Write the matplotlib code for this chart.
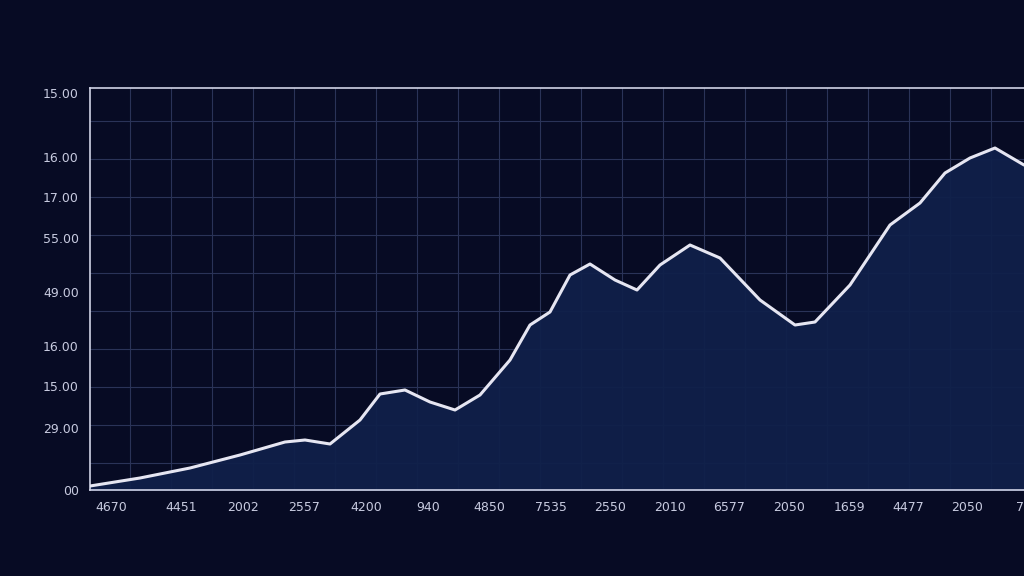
import matplotlib
matplotlib.use("Agg")
import matplotlib.pyplot as plt

x_vals = [0, 50, 100, 150, 195, 215, 240, 270, 290, 315, 340, 365, 390, 420, 440, 460, 480, 500, 525, 547, 570, 600, 630, 670, 705, 725, 760, 800, 830, 855, 880, 905, 934]
y_vals = [4, 12, 22, 35, 48, 50, 46, 70, 96, 100, 88, 80, 95, 130, 165, 178, 215, 226, 210, 200, 225, 245, 232, 190, 165, 168, 205, 265, 287, 317, 332, 342, 325]

y_tick_pos = [0, 62, 104, 144, 198, 252, 293, 333, 397]
y_tick_labels = ["00", "29.00", "15.00", "16.00", "49.00", "55.00", "17.00", "16.00", "15.00"]
x_tick_pos = [21, 91, 153, 214, 276, 338, 399, 461, 520, 580, 639, 699, 759, 818, 877, 930]
x_tick_labels = ["4670", "4451", "2002", "2557", "4200", "940", "4850", "7535", "2550", "2010", "6577", "2050", "1659", "4477", "2050", "7"]

bg = "#070b24"
fig = plt.figure(figsize=(10.24, 5.76), dpi=100, facecolor=bg)
ax = fig.add_axes([90/1024, 86/576, 934/1024, 402/576])
ax.set_facecolor(bg)
ax.set_xlim(0, 934)
ax.set_ylim(0, 402)

for gx in range(40, 934, 41):
    ax.axvline(gx, color="#2a3358", lw=0.8, zorder=0)
for gy in range(27, 402, 38):
    ax.axhline(gy, color="#2a3358", lw=0.8, zorder=0)

ax.fill_between(x_vals, y_vals, 0, color="#10204a", alpha=0.95, zorder=1)
ax.plot(x_vals, y_vals, color="#e6e6f2", lw=2.2, zorder=3, solid_capstyle="round", solid_joinstyle="round")

ax.set_yticks(y_tick_pos)
ax.set_yticklabels(y_tick_labels)
ax.set_xticks(x_tick_pos)
ax.set_xticklabels(x_tick_labels)
ax.tick_params(colors="#c8cbe0", labelsize=9, length=0, pad=8)
for s in ["top", "left", "bottom"]:
    ax.spines[s].set_color("#d0d3e6")
    ax.spines[s].set_linewidth(1.2)
ax.spines["right"].set_visible(False)

fig.savefig("out.png", dpi=100, facecolor=bg)
